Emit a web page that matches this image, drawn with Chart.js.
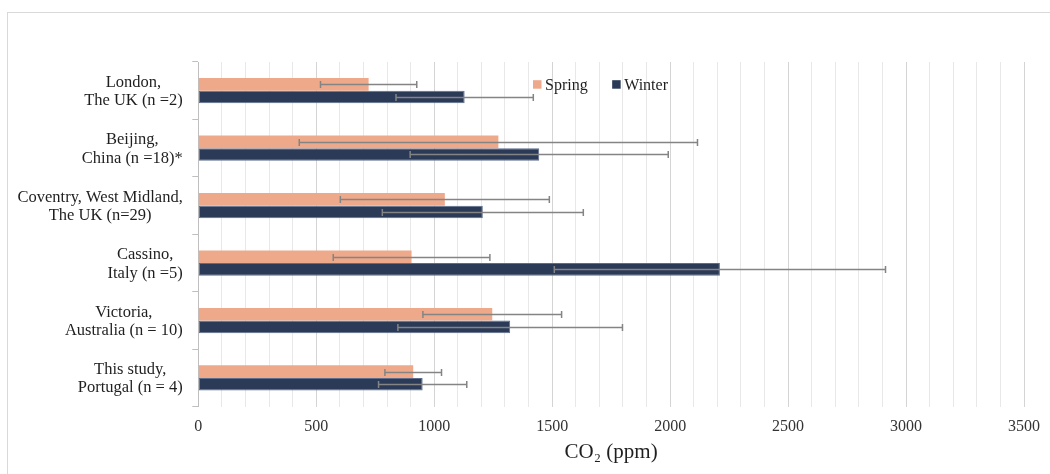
<!DOCTYPE html>
<html>
<head>
<meta charset="utf-8">
<script src="https://cdn.jsdelivr.net/npm/chart.js@4"></script>
<style>
  html, body { margin: 0; padding: 0; background: #ffffff; }
  #wrap { width: 1050px; height: 474px; }
</style>
</head>
<body>
<div id="wrap"><canvas id="c" width="1050" height="474"></canvas></div>
<script>
// ---- data ----
const categories = [
  ["London,", "The UK (n =2)"],
  ["Beijing,", "China (n =18)*"],
  ["Coventry, West Midland,", "The UK (n=29)"],
  ["Cassino,", "Italy (n =5)"],
  ["Victoria,", "Australia (n = 10)"],
  ["This study,", "Portugal (n = 4)"]
];
const seriesNames = ["Spring", "Winter"];
const springMean = [722, 1272, 1045, 904, 1246, 911];
const springSD   = [204, 844, 443, 332, 294, 120];
const winterMean = [1129, 1445, 1206, 2211, 1322, 951];
const winterSD   = [291, 547, 426, 702, 476, 187];
const xMin = 0, xMax = 3500, xGridStep = 100, xLabelStep = 500;
const xTitle = "CO\u2082 (ppm)";

// ---- styles ----
const SERIF = "'Liberation Serif', 'Times New Roman', serif";
const springColor = "#EEA98A";
const winterColor = "#2B3A57";
const errColor = "#848484";
const sdArrays = [springSD, winterSD];

const frameAndLabels = {
  id: 'frameAndLabels',
  beforeDraw(chart) {
    const ctx = chart.ctx;
    ctx.save();
    ctx.strokeStyle = '#d9d9d9';
    ctx.lineWidth = 1;
    ctx.strokeRect(7.5, 12.5, 1200, 800);
    ctx.restore();
  },
  afterDatasetsDraw(chart) {
    const ctx = chart.ctx;
    const xs = chart.scales.x;
    ctx.save();
    ctx.strokeStyle = errColor;
    ctx.lineWidth = 1.5;
    chart.data.datasets.forEach((ds, di) => {
      const meta = chart.getDatasetMeta(di);
      meta.data.forEach((bar, i) => {
        const m = ds.data[i], sd = sdArrays[di][i];
        const x1 = xs.getPixelForValue(m - sd);
        const x2 = xs.getPixelForValue(m + sd);
        const y = Math.round(bar.y) + 0.5;
        ctx.beginPath();
        ctx.moveTo(x1, y); ctx.lineTo(x2, y);
        ctx.moveTo(x1, y - 3.5); ctx.lineTo(x1, y + 3.5);
        ctx.moveTo(x2, y - 3.5); ctx.lineTo(x2, y + 3.5);
        ctx.stroke();
      });
    });
    ctx.restore();
  },
  afterDraw(chart) {
    const ctx = chart.ctx;
    const ys = chart.scales.y;
    const area = chart.chartArea;
    ctx.save();
    // category labels: lines centred on each other, block right-aligned
    ctx.font = "16.5px " + SERIF;
    ctx.fillStyle = '#1f1f1f';
    ctx.textAlign = 'center';
    ctx.textBaseline = 'middle';
    const rightEdge = area.left - 15.5;
    const lh = 18.3;
    categories.forEach((lines, i) => {
      const cy = ys.getPixelForTick(i);
      const w = Math.max(...lines.map(s => ctx.measureText(s).width));
      const cx = rightEdge - w / 2;
      lines.forEach((s, k) => {
        const y = cy + (k - (lines.length - 1) / 2) * lh + 1;
        ctx.fillText(s, cx, y);
      });
    });
    // legend
    ctx.font = "16px " + SERIF;
    ctx.textAlign = 'left';
    let lx = 533;
    const ly = 84.5;
    chart.data.datasets.forEach((ds, di) => {
      ctx.fillStyle = ds.backgroundColor;
      ctx.fillRect(lx, ly - 4.3, 8.5, 8.5);
      ctx.fillStyle = '#1f1f1f';
      ctx.fillText(ds.label, lx + 12, ly + 1);
      lx += 12 + ctx.measureText(ds.label).width + 24.5;
    });
    ctx.restore();
  }
};

new Chart(document.getElementById('c'), {
  type: 'bar',
  data: {
    labels: categories,
    datasets: [
      { label: seriesNames[0], data: springMean, backgroundColor: springColor, borderWidth: 0 },
      { label: seriesNames[1], data: winterMean, backgroundColor: winterColor, borderColor: '#5d6e8c', borderWidth: 1, borderSkipped: false }
    ]
  },
  options: {
    indexAxis: 'y',
    responsive: false,
    animation: false,
    devicePixelRatio: 1,
    categoryPercentage: 0.44,
    barPercentage: 1.0,
    layout: { padding: { top: 62, right: 19.3, left: 0, bottom: 0 } },
    plugins: {
      legend: { display: false },
      tooltip: { enabled: false },
      title: { display: false }
    },
    scales: {
      x: {
        min: xMin, max: xMax,
        border: { display: false },
        grid: {
          drawTicks: false,
          color: (c) => (c.tick && c.tick.value % xLabelStep === 0) ? '#d4d4d4' : '#e8e8e8',
          lineWidth: 1
        },
        ticks: {
          stepSize: xGridStep,
          autoSkip: false,
          maxRotation: 0,
          padding: 10,
          color: '#333333',
          font: { family: SERIF, size: 16 },
          callback: (v) => (v % xLabelStep === 0 ? String(v) : '')
        },
        title: {
          display: true,
          text: xTitle,
          color: '#1f1f1f',
          font: { family: SERIF, size: 21 },
          padding: { top: 0, bottom: 9.4 }
        },
        afterFit(scale) { scale.height = 474 - 406.7; }
      },
      y: {
        offset: true,
        border: { display: true, color: '#bfbfbf', width: 1 },
        grid: { offset: true, drawOnChartArea: false, drawTicks: true, tickLength: 6, color: '#bfbfbf' },
        ticks: { color: 'rgba(0,0,0,0)', font: { family: SERIF, size: 16.5 } },
        afterFit(scale) { scale.width = 198.3; }
      }
    }
  },
  plugins: [frameAndLabels]
});
</script>
</body>
</html>
